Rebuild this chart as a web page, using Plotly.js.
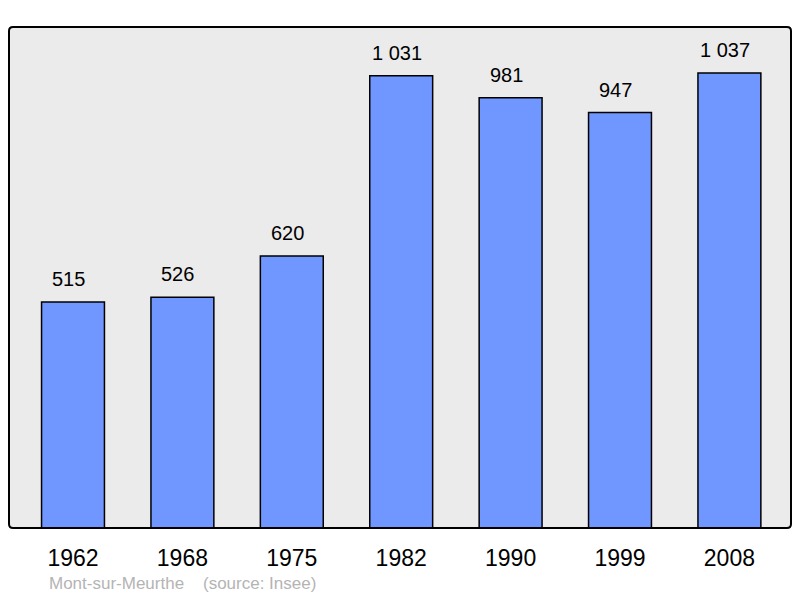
<!DOCTYPE html>
<html>
<head>
<meta charset="utf-8">
<script src="https://cdn.plot.ly/plotly-3.0.1.min.js"></script>
<style>html,body{margin:0;padding:0;background:#fff;}#chart{width:800px;height:598px;}</style>
</head>
<body>
<div id="chart"></div>
<script>
const years = ["1962", "1968", "1975", "1982", "1990", "1999", "2008"];
const population = [515, 526, 620, 1031, 981, 947, 1037];
const commune = "Mont-sur-Meurthe";
const source = "(source: Insee)";

function fmt(v) {
  return String(v).replace(/\B(?=(\d{3})+(?!\d))/g, " ");
}

const trace = {
  type: "bar",
  x: years,
  y: population,
  width: 0.575,
  marker: { color: "#7096ff", line: { color: "#000", width: 1.5 } },
  hoverinfo: "skip"
};

const annotations = years.map((yr, i) => ({
  x: i, y: population[i], xref: "x", yref: "y",
  text: fmt(population[i]), showarrow: false,
  yanchor: "bottom", yshift: 10, xshift: -4.5,
  font: { family: "Liberation Sans, Arial, sans-serif", size: 20, color: "#000" }
}));
annotations.push({
  x: 0.048, y: -0.11, xref: "paper", yref: "paper",
  xanchor: "left", yanchor: "middle", showarrow: false,
  text: commune + "&nbsp;&nbsp;&nbsp;&nbsp;" + source,
  font: { family: "Liberation Sans, Arial, sans-serif", size: 17, color: "#b4b4b4" }
});

// rounded border path in paper coordinates
const rx = 4 / 782, ry = 4 / 501;
const border = "M " + rx + " 0 L " + (1 - rx) + " 0 Q 1 0 1 " + ry +
  " L 1 " + (1 - ry) + " Q 1 1 " + (1 - rx) + " 1 L " + rx + " 1 Q 0 1 0 " + (1 - ry) +
  " L 0 " + ry + " Q 0 0 " + rx + " 0 Z";

const layout = {
  width: 800, height: 598,
  margin: { l: 9, r: 9, t: 27, b: 70, pad: 0 },
  paper_bgcolor: "#fff",
  plot_bgcolor: "#ebebeb",
  showlegend: false,
  xaxis: {
    type: "category",
    range: [-0.585, 6.563],
    showgrid: false, zeroline: false, showline: false,
    ticks: "outside", ticklen: 9, tickcolor: "rgba(0,0,0,0)",
    tickfont: { family: "Liberation Sans, Arial, sans-serif", size: 23, color: "#000" },
    fixedrange: true
  },
  yaxis: {
    range: [0, 1142],
    showgrid: false, zeroline: false, showline: false,
    showticklabels: false, ticks: "",
    fixedrange: true
  },
  annotations: annotations,
  shapes: [{
    type: "path", xref: "paper", yref: "paper",
    path: border,
    line: { color: "#000", width: 2 }, layer: "above"
  }]
};

Plotly.newPlot("chart", [trace], layout, { displayModeBar: false, staticPlot: true });
</script>
</body>
</html>
